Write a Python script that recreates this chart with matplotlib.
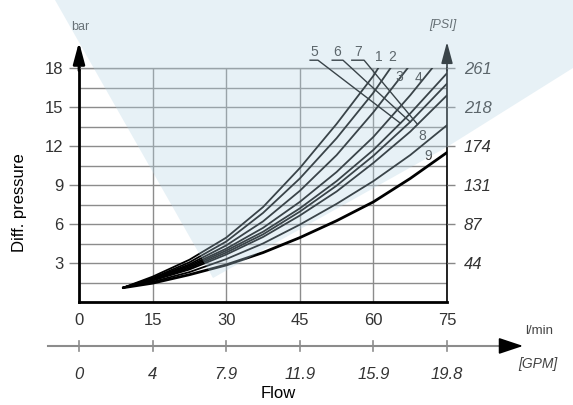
import numpy as np
import matplotlib.pyplot as plt
from matplotlib.patches import Polygon

plt.rcParams['font.family'] = ['Liberation Sans', 'DejaVu Sans']

# flow axis (l/min) and matching GPM labels
flow_ticks = [0, 15, 30, 45, 60, 75]
gpm_labels = ['0', '4', '7.9', '11.9', '15.9', '19.8']
# pressure axis (bar) and matching PSI labels
bar_ticks = [3, 6, 9, 12, 15, 18]
psi_labels = ['44', '87', '131', '174', '218', '261']

# curves: flow l/min -> diff. pressure bar
flow_grid = [9, 15, 22.5, 30, 37.5, 45, 52.5, 60, 67.5, 75]
flow_1 = [9, 15, 22.5, 30, 37.5, 45, 52.5, 60, 61]
dp_1 = [1.1, 1.95, 3.25, 4.95, 7.3, 10.3, 13.7, 17.4, 18.0]
flow_2 = [9, 15, 22.5, 30, 37.5, 45, 52.5, 60, 63.5]
dp_2 = [1.1, 1.85, 3.05, 4.65, 6.85, 9.5, 12.6, 16.1, 18.0]
flow_3 = [9, 15, 22.5, 30, 37.5, 45, 52.5, 60, 67]
dp_3 = [1.1, 1.8, 2.9, 4.35, 6.2, 8.55, 11.3, 14.6, 18.0]
flow_4 = [9, 15, 22.5, 30, 37.5, 45, 52.5, 60, 67.5, 72]
dp_4 = [1.1, 1.75, 2.8, 4.1, 5.7, 7.7, 10.0, 12.7, 15.9, 18.0]
dp_5 = [1.1, 1.7, 2.7, 3.95, 5.4, 7.2, 9.3, 11.7, 14.5, 17.6]
dp_6 = [1.1, 1.68, 2.6, 3.8, 5.2, 6.95, 8.95, 11.25, 13.85, 16.8]
dp_7 = [1.1, 1.65, 2.5, 3.65, 5.0, 6.65, 8.5, 10.7, 13.1, 15.9]
dp_8 = [1.1, 1.55, 2.3, 3.3, 4.5, 5.95, 7.55, 9.3, 11.3, 13.6]
dp_9 = [1.1, 1.45, 2.1, 2.85, 3.8, 4.95, 6.25, 7.7, 9.5, 11.5]

curves = [(flow_1, dp_1), (flow_2, dp_2), (flow_3, dp_3), (flow_4, dp_4),
          (flow_grid, dp_5), (flow_grid, dp_6), (flow_grid, dp_7),
          (flow_grid, dp_8), (flow_grid, dp_9)]

fig = plt.figure(figsize=(5.73, 4.05), dpi=100)
ax = fig.add_axes([79/573, 1-302/405, (447-79)/573, (302-68)/405])

for i, (q, p) in enumerate(curves):
    lw = 2.0 if i == 8 else 1.3
    ax.plot(q, p, color='black', lw=lw, solid_capstyle='round',
            solid_joinstyle='round', zorder=3)

# curve numbers
ax.text(61.1, 18.85, '1', ha='center', va='center', fontsize=10, color='#333')
ax.text(63.8, 18.85, '2', ha='center', va='center', fontsize=10, color='#333')
ax.text(65.2, 17.3, '3', ha='center', va='center', fontsize=10, color='#333')
ax.text(69.1, 17.2, '4', ha='center', va='center', fontsize=10, color='#333')
ax.text(69.9, 12.8, '8', ha='center', va='center', fontsize=10, color='#333')
ax.text(71.1, 11.2, '9', ha='center', va='center', fontsize=10, color='#333')
# 5, 6, 7 with underline and leader line down to the curve
lead = [('5', 47.1, 48.7, 65.5, dp_5), ('6', 51.6, 53.8, 67.5, dp_6),
        ('7', 55.6, 58.1, 69.0, dp_7)]
for txt, x0, x1, xe, p in lead:
    ax.text((x0+x1)/2, 19.25, txt, ha='center', va='center', fontsize=10, color='#333')
    ye = np.interp(xe, flow_grid, p)
    ax.plot([x0, x1, xe], [18.6, 18.6, ye], color='black', lw=1.0, clip_on=False, zorder=3)

ax.set_xlim(0, 75)
ax.set_ylim(0, 18)
ax.set_xticks(flow_ticks)
ax.set_yticks(bar_ticks)
ax.set_yticks(np.arange(1.5, 18, 3), minor=True)
ax.set_axisbelow(True)
ax.grid(which='both', axis='y', color='#8c8c8c', lw=1.0)
ax.grid(axis='x', color='#8c8c8c', lw=1.0)
ax.tick_params(axis='x', length=0, pad=8, labelsize=12, labelcolor='#333')
ax.tick_params(axis='y', which='major', direction='out', length=7, width=1,
               color='#888', pad=4, labelsize=12, labelcolor='#333')
ax.tick_params(axis='y', which='minor', length=0)
ax.spines['left'].set_linewidth(2)
ax.spines['bottom'].set_linewidth(2)
ax.spines['right'].set_linewidth(1.2)
ax.spines['top'].set_color('#8c8c8c')
ax.spines['top'].set_linewidth(1.0)

ax2 = ax.twinx()
ax2.set_ylim(0, 18)
ax2.set_yticks(bar_ticks, psi_labels, fontstyle='italic')
ax2.tick_params(axis='y', direction='out', length=6, width=1, color='#888',
                pad=6, labelsize=12, labelcolor='#333')
for s in ax2.spines.values():
    s.set_visible(False)

# axis arrows
arr = '-|>,head_length=1.3,head_width=0.35'
ax.annotate('', xy=(0, 20.0), xytext=(0, 17.8), annotation_clip=False,
            arrowprops=dict(arrowstyle=arr, color='black', lw=2, mutation_scale=10,
                            shrinkA=0, shrinkB=0))
ax.annotate('', xy=(75, 20.0), xytext=(75, 17.8), annotation_clip=False,
            arrowprops=dict(arrowstyle=arr, color='black', lw=1.2, mutation_scale=10,
                            shrinkA=0, shrinkB=0))
ax.text(0.2, 21.15, 'bar', ha='center', va='center', fontsize=9, color='#444')
ax.text(74.2, 21.3, '[PSI]', ha='center', va='center', fontsize=9,
        style='italic', color='#444')

# second flow scale in GPM
ax.plot([-6.3, 87], [-3.38, -3.38], color='#8c8c8c', lw=1.5, clip_on=False)
ax.annotate('', xy=(90.5, -3.38), xytext=(86, -3.38), annotation_clip=False,
            arrowprops=dict(arrowstyle='-|>,head_length=1.5,head_width=0.5',
                            color='black', lw=1.2, mutation_scale=10,
                            shrinkA=0, shrinkB=0))
for q, lbl in zip(flow_ticks, gpm_labels):
    ax.plot([q, q], [-3.0, -3.77], color='#8c8c8c', lw=1.2, clip_on=False)
    ax.text(q, -5.6, lbl, ha='center', va='center', fontsize=12,
            style='italic', color='#333')
ax.text(93.7, -2.23, 'l/min', ha='center', va='center', fontsize=9.5, color='#444')
ax.text(93.5, -4.77, '[GPM]', ha='center', va='center', fontsize=10,
        style='italic', color='#444')

fig.text(278/573, 1-394/405, 'Flow', ha='center', va='center', fontsize=12)
fig.text(20/573, 1-203/405, 'Diff. pressure', ha='center', va='center',
         fontsize=12, rotation=90)

# light blue watermark band over the chart
band_px = [(55, 0), (213, 278), (447, 147), (573, 68), (573, 0)]
band = Polygon([(x/573, 1-y/405) for x, y in band_px], closed=True,
               transform=fig.transFigure, facecolor=(181/255, 212/255, 228/255),
               alpha=0.32, edgecolor='none', zorder=10)
fig.add_artist(band)

fig.savefig('out.png', dpi=100)
